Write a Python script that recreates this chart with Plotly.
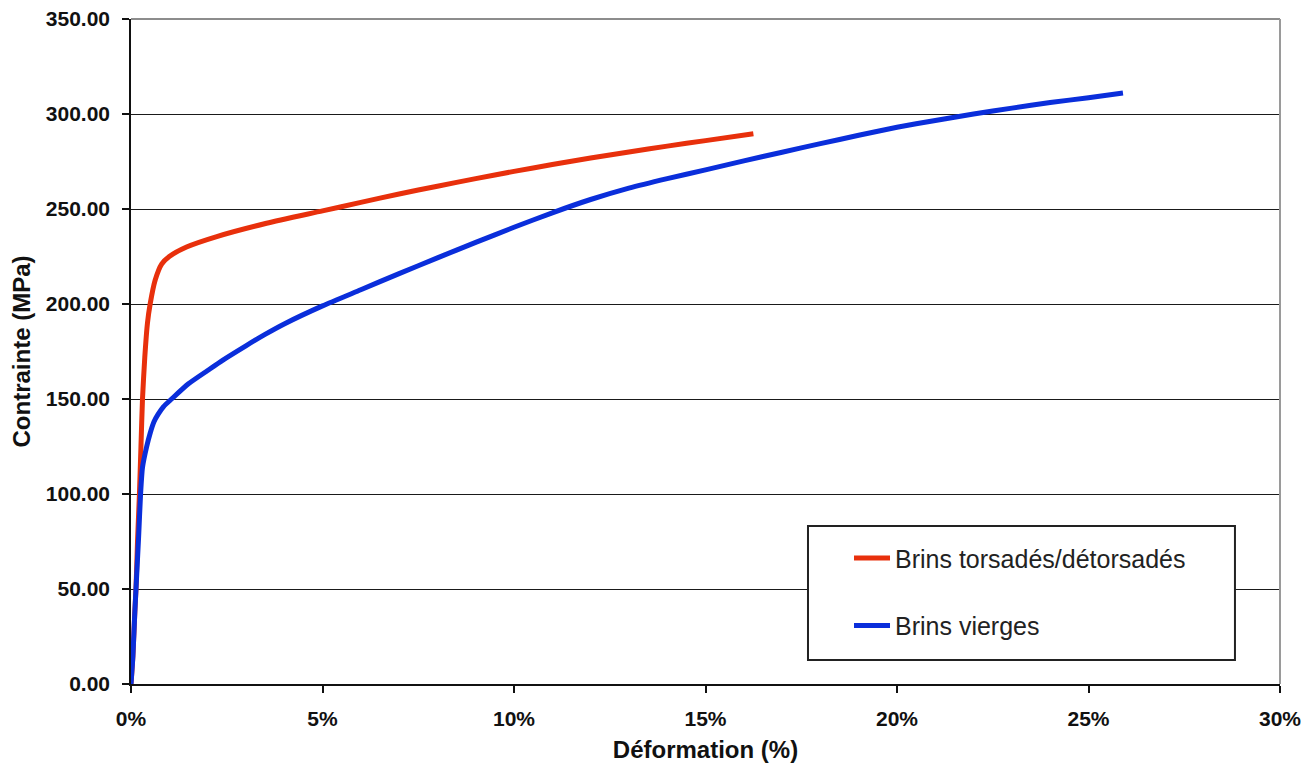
import plotly.graph_objects as go

# Data (strain in %, stress in MPa)
red_strain = [0, 0.05, 0.10, 0.13, 0.17, 0.22, 0.26, 0.30, 0.36, 0.43, 0.50, 0.63, 0.80, 1.00,
              1.45, 2.24, 3.54, 5.00, 6.00, 7.00, 8.00, 9.00, 10.00, 11.00, 12.00, 13.00,
              14.00, 15.00, 16.25]
red_stress = [0, 15, 38, 50, 75, 100, 125, 150, 172, 190, 200, 212.5, 221, 225,
              230, 235.5, 242.5, 249.0, 253.5, 257.9, 262.0, 266.0, 269.8, 273.4, 276.8, 280.0,
              283.1, 286.0, 289.6]

blue_strain = [0, 0.05, 0.10, 0.13, 0.20, 0.25, 0.30, 0.41, 0.50, 0.60, 0.71, 0.85, 1.06, 1.50,
               2.00, 2.40, 3.00, 3.50, 4.00, 5.00, 6.00, 7.00, 8.00, 9.00, 10.00, 11.00, 12.00,
               13.00, 14.00, 15.00, 16.00, 17.00, 18.00, 19.00, 20.00, 21.00, 22.00, 23.00,
               24.00, 25.00, 25.90]
blue_stress = [0, 15, 38, 50, 78, 100, 114, 125, 132, 138, 142, 146, 150, 158,
               165, 170.5, 178, 184, 189.5, 199, 207.5, 216, 224.3, 232.4, 240.4, 248.0, 255.0,
               261.0, 266.0, 270.6, 275.3, 279.9, 284.4, 288.8, 293.0, 296.6, 300.0, 303.1,
               306.0, 308.6, 311.0]

x_ticks = [0, 5, 10, 15, 20, 25, 30]
y_ticks = [0, 50, 100, 150, 200, 250, 300, 350]

series_names = ["Brins torsadés/détorsadés", "Brins vierges"]
series_colors = ["#E8300C", "#0A2EDB"]

fig = go.Figure()
fig.add_trace(go.Scatter(x=red_strain, y=red_stress, mode="lines", name=series_names[0],
                         legendgroup="a",
                         line=dict(color=series_colors[0], width=5, shape="spline", smoothing=0.6)))
fig.add_trace(go.Scatter(x=blue_strain, y=blue_stress, mode="lines", name=series_names[1],
                         legendgroup="b",
                         line=dict(color=series_colors[1], width=5, shape="spline", smoothing=0.6)))

tick_font = dict(family="Liberation Sans, Arial, sans-serif", size=21, color="#111")
title_font = dict(family="Liberation Sans, Arial, sans-serif", size=24, color="#111")

# page body has an 8px margin, so the figure is drawn from (8, 8)
fig.update_layout(
    width=1306, height=757,
    margin=dict(l=123, r=34, t=11, b=81, autoexpand=False),
    paper_bgcolor="white", plot_bgcolor="white",
    showlegend=True,
    legend=dict(x=0.6249, y=0.2235, xanchor="left", yanchor="top",
                bgcolor="rgba(0,0,0,0)", borderwidth=0,
                font=dict(family="Liberation Sans, Arial, sans-serif", size=25, color="#222"),
                tracegroupgap=32, traceorder="grouped", itemwidth=36),
    xaxis=dict(range=[0, 30], tickvals=x_ticks, ticktext=[f"<b>{v}%</b>" for v in x_ticks],
               showgrid=False, zeroline=False, showline=True, linecolor="#111", linewidth=1.5,
               ticks="outside", ticklen=7, tickwidth=1.5, tickcolor="#111",
               tickfont=tick_font, ticklabelstandoff=8, ticklabeloverflow="allow",
               title=dict(text="<b>Déformation (%)</b>", font=title_font, standoff=12),
               automargin=False),
    yaxis=dict(range=[0, 350], tickvals=y_ticks, ticktext=[f"<b>{v:.2f}</b>" for v in y_ticks],
               showgrid=True, gridcolor="#1a1a1a", gridwidth=1,
               zeroline=False, showline=True, linecolor="#111", linewidth=1.5,
               ticks="outside", ticklen=7, tickwidth=1.5, tickcolor="#111",
               tickfont=tick_font, ticklabelstandoff=8, ticklabeloverflow="allow",
               title=dict(text="<b>Contrainte (MPa)</b>", font=title_font, standoff=12),
               automargin=False),
    shapes=[
        dict(type="line", xref="paper", yref="paper", x0=0, x1=1, y0=1, y1=1,
             line=dict(color="#1a1a1a", width=1), layer="below"),
        dict(type="line", xref="paper", yref="paper", x0=1, x1=1, y0=0, y1=1,
             line=dict(color="#9a9a9a", width=2), layer="above"),
        dict(type="rect", xref="paper", yref="paper", x0=0.5892, x1=0.9608, y0=0.0361, y1=0.2376,
             line=dict(color="#222", width=2), fillcolor="white", layer="above"),
    ],
)

fig.write_html("out.html")
